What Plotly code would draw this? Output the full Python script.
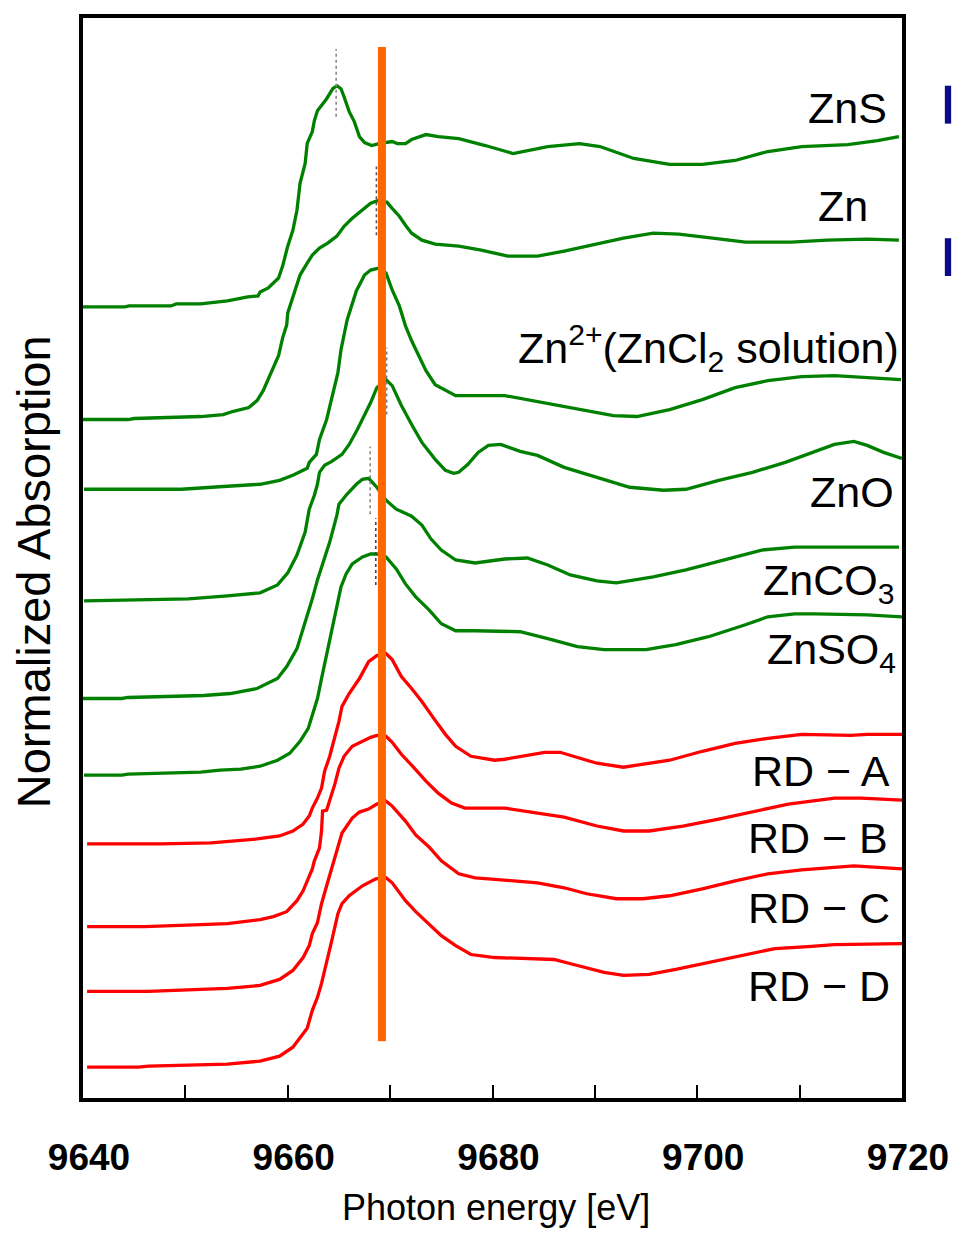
import plotly.graph_objects as go

# ---------------- data (photon energy [eV], stacked normalized absorption) ----------------
zns_E = [9639.6, 9644.1, 9644.5, 9648.6, 9649.1, 9651.5, 9654.1, 9656.1, 9657.1, 9657.3, 9658.1, 9659.1,
         9659.5, 9660.0, 9660.5, 9660.9, 9661.2, 9661.7, 9661.9, 9662.4, 9662.6, 9662.9, 9663.8, 9664.4,
         9664.8, 9665.2, 9665.5, 9666.0, 9666.5, 9667.0, 9667.5, 9668.2, 9668.9, 9670.2, 9670.7, 9671.5,
         9672.1, 9673.5, 9674.7, 9676.7, 9679.3, 9682.0, 9685.4, 9688.5, 9690.5, 9693.8, 9697.3, 9700.5,
         9703.7, 9706.9, 9710.2, 9714.7, 9717.6, 9719.7]
zns_A = [7.96, 7.96, 7.97, 7.97, 7.99, 7.99, 8.02, 8.06, 8.07, 8.11, 8.15, 8.25,
         8.37, 8.57, 8.73, 8.93, 9.20, 9.40, 9.60, 9.72, 9.83, 9.93, 10.05, 10.15,
         10.18, 10.15, 10.07, 9.92, 9.82, 9.67, 9.61, 9.58, 9.60, 9.62, 9.60, 9.60,
         9.64, 9.69, 9.67, 9.65, 9.58, 9.50, 9.57, 9.60, 9.57, 9.45, 9.39, 9.39,
         9.43, 9.52, 9.57, 9.59, 9.63, 9.67]

zn_E = [9639.6, 9644.4, 9645.0, 9649.3, 9651.5, 9653.7, 9654.6, 9656.2, 9657.0, 9657.6, 9658.3, 9659.1,
        9659.5, 9659.9, 9660.0, 9660.4, 9660.7, 9661.2, 9661.9, 9662.4, 9663.1, 9663.9, 9664.8, 9665.5,
        9666.3, 9667.3, 9668.1, 9668.9, 9669.7, 9670.2, 9670.9, 9671.5, 9672.1, 9673.1, 9674.4, 9676.7,
        9678.9, 9681.5, 9684.4, 9687.0, 9689.2, 9692.8, 9695.7, 9698.2, 9701.5, 9704.7, 9709.2, 9712.7,
        9716.6, 9719.7]
zn_A = [6.83, 6.83, 6.84, 6.85, 6.86, 6.88, 6.91, 6.95, 7.02, 7.12, 7.28, 7.47,
        7.65, 7.78, 7.90, 8.03, 8.13, 8.28, 8.40, 8.48, 8.55, 8.60, 8.67, 8.77,
        8.85, 8.93, 9.00, 9.03, 9.01, 8.95, 8.87, 8.78, 8.70, 8.63, 8.59, 8.57,
        8.53, 8.47, 8.47, 8.52, 8.57, 8.65, 8.70, 8.69, 8.65, 8.61, 8.61, 8.63,
        8.64, 8.63]

zncl2_E = [9640.1, 9644.4, 9649.6, 9654.1, 9657.3, 9659.2, 9660.5, 9661.9, 9662.1, 9662.8, 9663.1, 9663.8,
           9664.4, 9664.9, 9665.2, 9665.8, 9666.7, 9667.5, 9668.1, 9668.9, 9669.6, 9670.2, 9670.9, 9671.5,
           9672.1, 9672.8, 9673.5, 9674.4, 9675.7, 9676.4, 9681.2, 9686.0, 9689.2, 9691.8, 9694.1, 9697.3,
           9700.5, 9703.7, 9706.9, 9710.2, 9713.4, 9716.6, 9719.9]
zncl2_A = [6.13, 6.13, 6.13, 6.16, 6.18, 6.22, 6.27, 6.34, 6.40, 6.48, 6.63, 6.83,
           7.07, 7.30, 7.53, 7.83, 8.12, 8.28, 8.33, 8.35, 8.30, 8.13, 7.97, 7.77,
           7.62, 7.47, 7.32, 7.18, 7.11, 7.07, 7.07, 6.98, 6.92, 6.87, 6.86, 6.93,
           7.03, 7.15, 7.22, 7.26, 7.27, 7.25, 7.23]

zno_E = [9640.1, 9645.4, 9650.3, 9654.1, 9657.3, 9659.0, 9660.0, 9660.9, 9661.7, 9662.1, 9662.6, 9662.9,
         9663.1, 9663.6, 9664.3, 9665.3, 9666.0, 9666.8, 9667.5, 9668.1, 9668.7, 9669.6, 9670.2, 9671.1,
         9672.1, 9673.1, 9674.4, 9675.4, 9676.2, 9676.7, 9677.6, 9678.6, 9679.6, 9680.8, 9682.7, 9684.4,
         9687.0, 9689.2, 9693.4, 9696.7, 9698.9, 9702.1, 9705.4, 9708.6, 9711.8, 9713.4, 9715.3, 9716.6,
         9718.2, 9720.0]
zno_A = [5.01, 5.02, 5.03, 5.06, 5.09, 5.17, 5.29, 5.47, 5.70, 5.93, 6.07, 6.18,
         6.30, 6.37, 6.41, 6.48, 6.58, 6.73, 6.87, 7.00, 7.15, 7.23, 7.17, 6.97,
         6.78, 6.60, 6.43, 6.32, 6.29, 6.30, 6.38, 6.50, 6.57, 6.58, 6.51, 6.47,
         6.35, 6.28, 6.15, 6.12, 6.13, 6.22, 6.30, 6.40, 6.52, 6.58, 6.61, 6.57,
         6.50, 6.44]

znco3_E = [9639.6, 9643.8, 9644.4, 9648.9, 9651.8, 9654.4, 9657.0, 9659.0, 9659.9, 9660.9, 9661.5, 9662.0,
           9662.4, 9662.9, 9663.4, 9664.1, 9664.8, 9665.0, 9665.7, 9666.7, 9667.3, 9667.9, 9668.7, 9669.6,
           9670.6, 9672.1, 9673.1, 9674.0, 9675.0, 9676.4, 9678.3, 9681.2, 9683.4, 9685.4, 9687.6, 9690.2,
           9692.1, 9695.7, 9698.9, 9703.1, 9706.3, 9709.5, 9713.4, 9719.7]
znco3_A = [4.03, 4.03, 4.04, 4.05, 4.06, 4.08, 4.13, 4.23, 4.35, 4.53, 4.72, 4.90,
           5.03, 5.22, 5.37, 5.60, 5.87, 5.98, 6.07, 6.18, 6.23, 6.24, 6.15, 6.02,
           5.93, 5.86, 5.77, 5.63, 5.52, 5.42, 5.39, 5.43, 5.44, 5.37, 5.27, 5.21,
           5.19, 5.25, 5.32, 5.43, 5.52, 5.55, 5.55, 5.55]

znso4_E = [9640.1, 9643.8, 9644.4, 9648.9, 9651.5, 9653.4, 9655.4, 9657.3, 9659.0, 9660.2, 9661.2, 9662.0,
           9662.4, 9662.9, 9663.3, 9663.8, 9664.3, 9664.8, 9665.2, 9665.7, 9666.3, 9667.3, 9668.1, 9668.7,
           9669.6, 9670.6, 9671.5, 9672.5, 9673.8, 9675.0, 9676.4, 9678.3, 9682.7, 9685.4, 9688.3, 9690.9,
           9695.0, 9697.9, 9701.1, 9704.7, 9706.9, 9709.5, 9711.5, 9716.6, 9720.0]
znso4_A = [3.26, 3.26, 3.27, 3.28, 3.29, 3.31, 3.32, 3.35, 3.41, 3.48, 3.60, 3.73,
           3.87, 4.03, 4.23, 4.47, 4.70, 4.93, 5.15, 5.28, 5.38, 5.45, 5.48, 5.48,
           5.45, 5.33, 5.18, 5.05, 4.92, 4.78, 4.71, 4.71, 4.70, 4.63, 4.55, 4.52,
           4.52, 4.57, 4.65, 4.77, 4.85, 4.88, 4.88, 4.87, 4.85]

rda_E = [9640.4, 9647.6, 9652.5, 9654.7, 9657.0, 9659.2, 9660.5, 9661.5, 9662.1, 9662.4, 9662.9, 9663.3,
         9663.6, 9664.1, 9664.6, 9665.0, 9665.3, 9666.0, 9667.0, 9667.9, 9668.7, 9669.6, 9670.2, 9671.1,
         9672.1, 9673.1, 9674.4, 9675.4, 9676.4, 9677.9, 9680.2, 9681.2, 9685.1, 9686.6, 9690.2, 9692.8,
         9694.1, 9697.3, 9700.5, 9703.7, 9706.9, 9710.2, 9715.0, 9716.6, 9720.0]
rda_A = [2.57, 2.57, 2.58, 2.60, 2.62, 2.65, 2.70, 2.77, 2.85, 2.93, 3.03, 3.13,
         3.30, 3.45, 3.63, 3.80, 3.95, 4.08, 4.23, 4.40, 4.46, 4.48, 4.42, 4.25,
         4.13, 4.00, 3.81, 3.67, 3.55, 3.45, 3.41, 3.42, 3.49, 3.49, 3.38, 3.34,
         3.36, 3.41, 3.50, 3.58, 3.63, 3.67, 3.66, 3.67, 3.67]

rdb_E = [9640.4, 9646.0, 9651.5, 9654.1, 9657.3, 9658.6, 9659.9, 9660.9, 9661.5, 9662.0, 9662.4, 9662.6,
         9663.1, 9663.3, 9663.4, 9663.8, 9664.1, 9664.6, 9665.0, 9665.5, 9666.3, 9667.3, 9668.1, 9668.7,
         9669.6, 9670.2, 9671.1, 9672.1, 9673.5, 9674.7, 9676.0, 9677.3, 9681.2, 9684.4, 9687.0, 9690.2,
         9692.8, 9695.3, 9698.6, 9702.1, 9705.7, 9708.9, 9713.4, 9716.0, 9720.0]
rdb_A = [1.74, 1.74, 1.76, 1.77, 1.81, 1.84, 1.89, 2.00, 2.10, 2.22, 2.32, 2.40,
         2.53, 2.70, 2.90, 2.91, 3.00, 3.17, 3.33, 3.45, 3.55, 3.60, 3.64, 3.66,
         3.65, 3.59, 3.47, 3.36, 3.20, 3.08, 2.98, 2.93, 2.93, 2.88, 2.84, 2.75,
         2.70, 2.70, 2.75, 2.82, 2.90, 2.97, 3.03, 3.03, 3.01]

rdc_E = [9640.4, 9646.4, 9651.5, 9654.1, 9657.3, 9659.2, 9660.5, 9661.5, 9662.1, 9662.4, 9662.9, 9663.3,
         9663.8, 9664.4, 9665.0, 9665.3, 9666.3, 9667.0, 9667.9, 9668.7, 9669.6, 9670.2, 9671.5, 9672.5,
         9673.8, 9675.0, 9676.7, 9678.3, 9679.6, 9684.4, 9687.0, 9689.2, 9692.1, 9694.7, 9697.3, 9700.5,
         9703.7, 9706.9, 9710.2, 9713.4, 9715.3, 9720.0]
rdc_A = [1.09, 1.09, 1.11, 1.12, 1.15, 1.21, 1.30, 1.43, 1.55, 1.67, 1.78, 1.97,
         2.15, 2.37, 2.60, 2.68, 2.83, 2.89, 2.92, 2.97, 3.00, 2.95, 2.80, 2.66,
         2.54, 2.40, 2.27, 2.23, 2.22, 2.18, 2.13, 2.07, 2.02, 2.02, 2.05, 2.12,
         2.20, 2.27, 2.31, 2.34, 2.35, 2.32]

rdd_E = [9640.4, 9645.4, 9646.4, 9651.5, 9654.1, 9657.3, 9659.2, 9660.5, 9661.9, 9662.4, 9662.9, 9663.3,
         9663.8, 9664.3, 9664.9, 9665.3, 9666.0, 9667.3, 9668.6, 9669.6, 9670.2, 9671.5, 9672.5, 9673.8,
         9675.0, 9676.4, 9677.9, 9680.2, 9682.7, 9686.0, 9688.3, 9690.9, 9692.8, 9695.3, 9697.9, 9701.1,
         9704.4, 9707.6, 9710.8, 9713.4, 9720.0]
rdd_A = [0.33, 0.33, 0.34, 0.35, 0.36, 0.39, 0.44, 0.53, 0.72, 0.90, 1.03, 1.17,
         1.37, 1.60, 1.87, 1.97, 2.05, 2.15, 2.22, 2.23, 2.18, 2.00, 1.89, 1.77,
         1.65, 1.55, 1.46, 1.43, 1.42, 1.41, 1.35, 1.28, 1.25, 1.26, 1.31, 1.38,
         1.45, 1.52, 1.54, 1.56, 1.57]

sample_names = ["ZnS", "Zn", "Zn<sup>2+</sup>(ZnCl<sub>2</sub> solution)", "ZnO",
                "ZnCO<sub>3</sub>", "ZnSO<sub>4</sub>",
                "RD − A", "RD − B", "RD − C", "RD − D"]
label_E = [9718.75, 9716.85, 9719.9, 9719.45, 9719.45, 9719.65, 9719.05, 9718.85, 9719.05, 9719.05]
label_A = [9.96, 8.97, 7.55, 6.10, 5.19, 4.50, 3.30, 2.625, 1.93, 1.145]

# peak-position markers (dashed) : energy, lower, upper
peak_E = [9664.73, 9668.66, 9669.66, 9668.05, 9668.6]
peak_lo = [9.87, 8.68, 6.88, 5.88, 5.17]
peak_hi = [10.55, 9.37, 7.55, 6.56, 5.84]
peak_col = ["#8a8a8a", "#555555", "#7a7a7a", "#8a8a8a", "#444444"]

ref_E = 9669.2          # reference energy (orange line)
ref_span = [0.59, 10.57]

tick_vals = [9640, 9650, 9660, 9670, 9680, 9690, 9700, 9710, 9720]
tick_text = ["9640", " ", "9660", " ", "9680", " ", "9700", " ", "9720"]

GREEN = "#008000"
RED = "#ff0000"

series = [(zns_E, zns_A, GREEN), (zn_E, zn_A, GREEN), (zncl2_E, zncl2_A, GREEN),
          (zno_E, zno_A, GREEN), (znco3_E, znco3_A, GREEN), (znso4_E, znso4_A, GREEN),
          (rda_E, rda_A, RED), (rdb_E, rdb_A, RED), (rdc_E, rdc_A, RED), (rdd_E, rdd_A, RED)]

fig = go.Figure()
for (ex, ay, col) in series:
    fig.add_trace(go.Scatter(x=ex, y=ay, mode="lines",
                             line=dict(color=col, width=3.3),
                             hoverinfo="skip"))

for e, lo, hi, c in zip(peak_E, peak_lo, peak_hi, peak_col):
    fig.add_trace(go.Scatter(x=[e, e], y=[lo, hi], mode="lines",
                             line=dict(color=c, width=1.6, dash="3px,3px"), hoverinfo="skip"))

fig.add_trace(go.Scatter(x=[ref_E, ref_E], y=ref_span, mode="lines",
                         line=dict(color="#ff6600", width=8), hoverinfo="skip"))

LABEL_FONT = dict(family="Liberation Sans, Arial, sans-serif", size=43, color="black")
for name, ex, ay in zip(sample_names, label_E, label_A):
    fig.add_annotation(x=ex, y=ay, xref="x", yref="y", text=name, showarrow=False,
                       xanchor="right", yanchor="middle", font=LABEL_FONT)

fig.add_annotation(x=-0.0608, y=0.487, xref="paper", yref="paper", text="Normalized Absorption",
                   textangle=-90, showarrow=False, xanchor="center", yanchor="middle",
                   font=dict(family="Liberation Sans, Arial, sans-serif", size=47, color="black"))
fig.add_annotation(x=0.504, y=-0.1010, xref="paper", yref="paper", text="Photon energy [eV]",
                   showarrow=False, xanchor="center", yanchor="middle",
                   font=dict(family="Liberation Sans, Arial, sans-serif", size=36, color="black"))

# cut-off marks at the right edge (fragments of text outside the frame)
for y0, y1 in [(0.9022, 0.9373), (0.7611, 0.7961)]:
    fig.add_shape(type="rect", xref="paper", yref="paper", x0=1.0523, x1=1.0600, y0=y0, y1=y1,
                  fillcolor="#0a0a8a", line=dict(width=0), layer="above")

# page body has an 8px margin: figure is sized/offset so it fits the 963x1238 window exactly
fig.update_layout(
    width=947, height=1222,
    margin=dict(l=75, r=49, t=6, b=132, pad=0),
    paper_bgcolor="white", plot_bgcolor="white",
    showlegend=False,
    xaxis=dict(range=[9640, 9720], showgrid=False, zeroline=False,
               showline=True, linewidth=4, linecolor="black", mirror=True,
               ticks="inside", ticklen=13, tickwidth=2, tickcolor="black",
               tickvals=tick_vals, ticktext=tick_text,
               tickfont=dict(family="Liberation Sans, Arial, sans-serif", size=37, color="black", weight="bold"),
               ticklabelshift=6, ticklabelstandoff=24),
    yaxis=dict(range=[0.02, 10.86], showgrid=False, zeroline=False,
               showline=True, linewidth=4, linecolor="black", mirror=True,
               showticklabels=False, ticks=""),
)

fig.write_html("out.html")
